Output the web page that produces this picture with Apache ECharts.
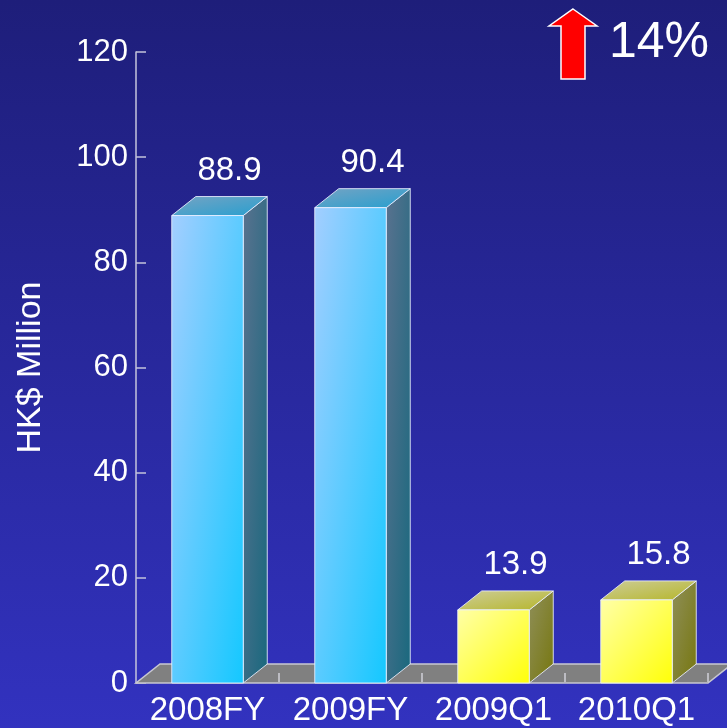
<!DOCTYPE html>
<html>
<head>
<meta charset="utf-8">
<script src="https://cdn.jsdelivr.net/npm/echarts@6/dist/echarts.min.js"></script>
<style>
  html, body { margin: 0; padding: 0; }
  #chart { width: 727px; height: 728px; }
</style>
</head>
<body>
<div id="chart"></div>
<script>
// Profit figures, HK$ million
const categories = ['2008FY', '2009FY', '2009Q1', '2010Q1'];
const values = [88.9, 90.4, 13.9, 15.8];
const yTicks = { min: 0, max: 120, interval: 20 };
const growthText = '14%';

// Depth of the pseudo-3D extrusion (pixels)
const DX = 24, DY = -19;
const FONT = '"Liberation Sans", Arial, sans-serif';

const blueTheme = {
  front: ['#a4ceff', '#12c8ff'],
  side: ['#5a728f', '#16687d'],
  top: ['#76a3c3', '#239fd0']
};
const yellowTheme = {
  front: ['#ffffa8', '#ffff08'],
  side: ['#8f8f5a', '#76760c'],
  top: ['#cdcd9a', '#b5b524']
};

// Corner-to-corner gradient whose colour bands run parallel to the
// face's anti-diagonal, so wide and tall faces shade alike.
function diagGrad(w, h, c) {
  const d = w * w + h * h;
  return new echarts.graphic.LinearGradient(0, 0, 2 * h * h / d, 2 * w * w / d, [
    { offset: 0, color: c[0] }, { offset: 1, color: c[1] }
  ]);
}

function renderBar(params, api) {
  const idx = api.value(0);
  const v = api.value(1);
  const base = api.coord([idx, 0]);
  const top = api.coord([idx, v]);
  const band = api.size([1, 0])[0];
  const w = band * 0.5;
  const x0 = base[0] - w / 2, x1 = base[0] + w / 2;
  const yb = base[1], yt = top[1];
  const h = yb - yt;
  const theme = idx < 2 ? blueTheme : yellowTheme;
  const edge = { stroke: 'rgba(235,240,255,0.85)', lineWidth: 1 };
  return {
    type: 'group',
    children: [
      {
        type: 'polygon',
        shape: { points: [[x1, yb], [x1 + DX, yb + DY], [x1 + DX, yt + DY], [x1, yt]] },
        style: Object.assign({ fill: diagGrad(DX, h - DY, theme.side) }, edge)
      },
      {
        type: 'polygon',
        shape: { points: [[x0, yt], [x1, yt], [x1 + DX, yt + DY], [x0 + DX, yt + DY]] },
        style: Object.assign({ fill: diagGrad(w + DX, -DY, theme.top) }, edge)
      },
      {
        type: 'rect',
        shape: { x: x0, y: yt, width: w, height: h },
        style: Object.assign({ fill: diagGrad(w, h, theme.front) }, edge)
      },
      {
        type: 'text',
        style: {
          x: base[0] + 22, y: yt - 45,
          text: v.toFixed(1),
          fill: '#ffffff', font: '33px ' + FONT,
          textAlign: 'center', textVerticalAlign: 'middle'
        }
      }
    ]
  };
}

function renderFloor(params, api) {
  const first = api.coord([0, 0]);
  const band = api.size([1, 0])[0];
  const left = first[0] - band / 2;
  const right = left + band * categories.length;
  const y = first[1];
  const children = [{
    type: 'polygon',
    shape: { points: [[left, y], [right, y], [right + DX, y + DY], [left + DX, y + DY]] },
    style: { fill: '#808080', stroke: '#c8c8d0', lineWidth: 1.5 }
  }];
  for (let i = 1; i <= categories.length; i++) {
    const bx = left + band * i;
    children.push({
      type: 'line',
      shape: { x1: bx, y1: y - 1, x2: bx, y2: y - 10 },
      style: { stroke: '#d0d0d8', lineWidth: 1.5 }
    });
  }
  return { type: 'group', children };
}

const chart = echarts.init(document.getElementById('chart'), null, { renderer: 'canvas' });

chart.setOption({
  animation: false,
  backgroundColor: new echarts.graphic.LinearGradient(0, 0, 0, 1, [
    { offset: 0, color: '#1e1e7a' },
    { offset: 1, color: '#3232bf' }
  ]),
  grid: { left: 136, right: 19, top: 52, bottom: 45 },
  xAxis: {
    type: 'category',
    data: categories,
    axisLine: { show: false },
    axisTick: { show: false },
    axisLabel: { color: '#ffffff', fontSize: 33, fontFamily: FONT, margin: 11, interval: 0 }
  },
  yAxis: {
    type: 'value',
    min: yTicks.min, max: yTicks.max, interval: yTicks.interval,
    name: 'HK$ Million',
    nameLocation: 'middle',
    nameRotate: 90,
    nameGap: 88,
    nameTextStyle: { color: '#ffffff', fontSize: 34, fontFamily: FONT },
    axisLine: { show: true, lineStyle: { color: '#c4c4dc', width: 1.5 } },
    axisTick: { show: true, inside: true, length: 10, lineStyle: { color: '#c4c4dc', width: 1.5 } },
    axisLabel: { color: '#ffffff', fontSize: 31, fontFamily: FONT, margin: 8 },
    splitLine: { show: false }
  },
  series: [
    {
      type: 'custom',
      z: 1,
      renderItem: renderFloor,
      data: [[0, 0]],
      silent: true
    },
    {
      type: 'custom',
      z: 2,
      renderItem: renderBar,
      data: values.map((v, i) => [i, v])
    }
  ],
  graphic: [
    {
      type: 'polygon',
      shape: { points: [[573, 9], [597, 26], [585, 26], [585, 79], [561, 79], [561, 26], [549, 26]] },
      style: { fill: '#ff0000', stroke: '#ffffff', lineWidth: 1.5 }
    },
    {
      type: 'text',
      left: 609, top: 18,
      style: { text: growthText, fill: '#ffffff', font: '50px ' + FONT }
    }
  ]
});
</script>
</body>
</html>
